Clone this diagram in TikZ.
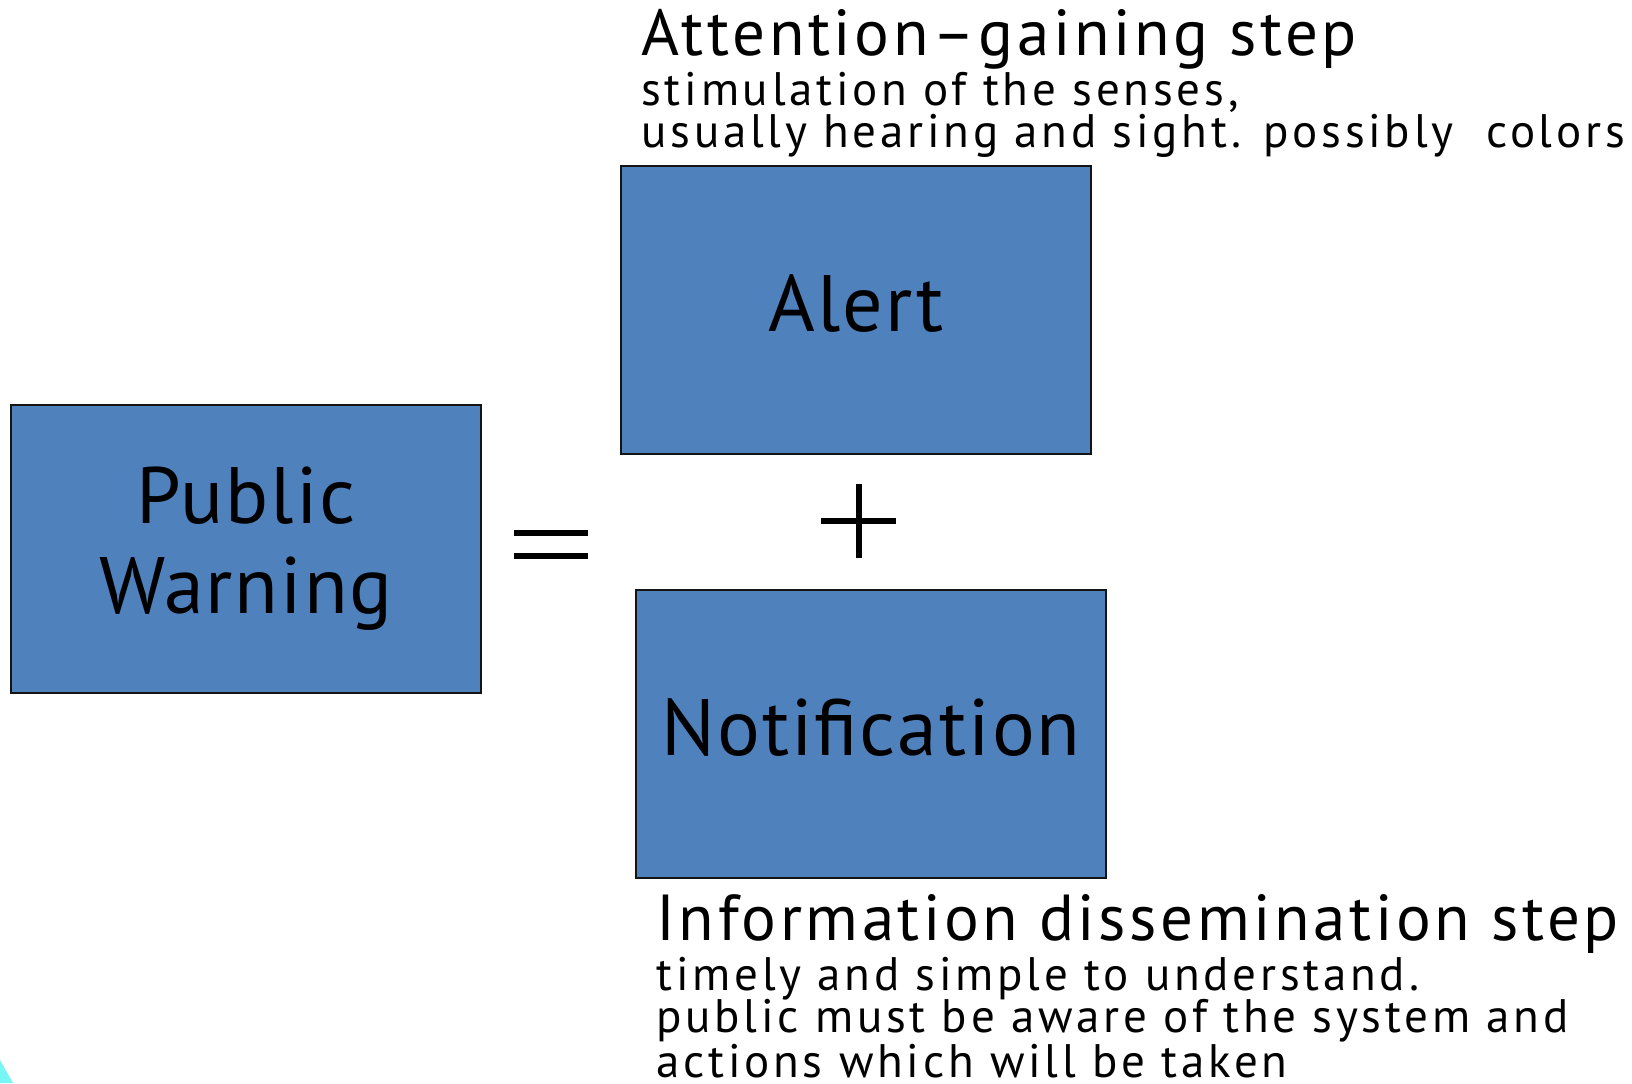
\documentclass[tikz,border=0pt]{standalone}
\usepackage{fontspec}
\setmainfont{PT Sans}
\newfontfamily\headfont[LetterSpace=5.5]{PT Sans}
\newfontfamily\subfont[LetterSpace=8]{PT Sans}
\newfontfamily\boxfontf[LetterSpace=2.5]{PT Sans}
\definecolor{boxblue}{RGB}{79,129,189}
\definecolor{edge}{RGB}{20,20,20}
\definecolor{cornercyan}{RGB}{120,245,245}
\begin{document}
\begin{tikzpicture}[x=0.5pt,y=-0.5pt,
  box/.style={draw=edge, line width=1pt, fill=boxblue, minimum width=235pt,
              minimum height=144pt, inner sep=0pt, align=center},
  boxfont/.style={font=\boxfontf\fontsize{40}{45}\selectfont},
  head/.style={anchor=base west, inner sep=0pt, font=\headfont\fontsize{32.5}{38}\selectfont},
  sub/.style={anchor=base west, inner sep=0pt, font=\subfont\fontsize{23.5}{27}\selectfont},
  op/.style={line width=3pt}]
\useasboundingbox (0,0) rectangle (1632,1083);
\fill[cornercyan] (0,1060) -- (13,1083) -- (0,1083) -- cycle;

\node[box, boxfont] (pw) at (246,549) {Public\\Warning};
\node[box, boxfont, text height=21.5pt, text depth=0pt] (alert) at (856,310) {Alert};
\node[box, boxfont, text height=21.5pt, text depth=0pt] (notif) at (871,733.5) {Notification};

\draw[op] (514,533) -- (588,533);
\draw[op] (514,556) -- (588,556);
\draw[op] (821,521) -- (896,521);
\draw[op] (858.5,484) -- (858.5,558);

\node[head] (atth) at (641,55) {Attention–gaining step};
\node[sub] (att1) at (641,105) {stimulation of the senses,};
\node[sub] (att2) at (641,147) {usually hearing and sight. possibly\ \ colors};

\node[head] (infh) at (656,940) {Information dissemination step};
\node[sub] (inf1) at (656,990) {timely and simple to understand.};
\node[sub] (inf2) at (656,1032) {public must be aware of the system and};
\node[sub] (inf3) at (656,1077) {actions which will be taken};
\end{tikzpicture}
\end{document}
